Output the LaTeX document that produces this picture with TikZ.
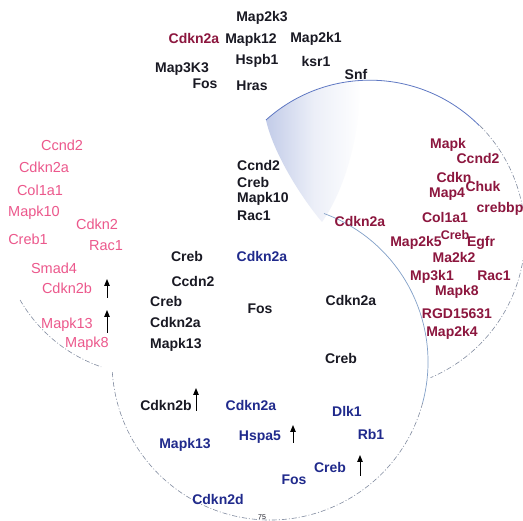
\documentclass[tikz,border=0pt]{standalone}
\usepackage{fontspec}
\setmainfont{Liberation Sans}
\usetikzlibrary{arrows.meta}
\definecolor{pinkt}{RGB}{236,88,140}
\definecolor{maroont}{RGB}{140,22,62}
\definecolor{bluet}{RGB}{32,42,140}
\definecolor{blackt}{RGB}{25,25,35}
\definecolor{circblue}{RGB}{95,120,195}
\definecolor{circlight}{RGB}{130,160,200}
\definecolor{circgray}{RGB}{130,140,160}
\begin{document}
\begin{tikzpicture}[x=1pt,y=-1pt,
 lbl/.style={inner sep=0pt, font=\fontsize{14}{16}\selectfont\bfseries},
 blk/.style={lbl, text=blackt},
 mar/.style={lbl, text=maroont},
 blu/.style={lbl, text=bluet},
 pnk/.style={inner sep=0pt, font=\fontsize{14.5}{16}\selectfont, text=pinkt},
 uparrow/.style={-{Triangle[length=7pt,width=5.5pt]}, line width=0.9pt, draw=black},
 solidarc/.style={draw=circblue, line width=0.8pt},
 lightarc/.style={draw=circlight, line width=0.7pt},
 dasharc/.style={draw=circgray, line width=0.6pt, dash pattern=on 5pt off 2pt on 1pt off 2pt},
]
\useasboundingbox[fill=white] (0,0) rectangle (523,521);

% shaded wedge
\shade[left color=circblue!38!white, right color=white, middle color=circblue!12!white]
  (266,120) arc[start angle=-132, end angle=-94, radius=155]
  .. controls (362,130) and (345,190) .. (322,222)
  .. controls (300,196) and (273,152) .. (266,120) -- cycle;

% right circle
\draw[solidarc] (266,120) arc[start angle=-132, end angle=-45, radius=155];
\draw[dasharc] (370,235) ++(-45:155) arc[start angle=-45, end angle=67, radius=155];
% bottom circle
\draw[lightarc] (270,362) ++(-70:158) arc[start angle=-70, end angle=15, radius=158];
\draw[dasharc] (270,362) ++(15:158) arc[start angle=15, end angle=177, radius=158];
% left circle
\draw[dasharc] (150,225) ++(150:150) arc[start angle=150, end angle=109, radius=150];

% top group
\node[blk] (t1) at (262,18) {Map2k3};
\node[mar] (t2) at (194,38) {Cdkn2a};
\node[blk] (t3) at (251,40) {Mapk12};
\node[blk] (t4) at (316,39) {Map2k1};
\node[blk] (t5) at (182,69) {Map3K3};
\node[blk] (t6) at (257,61) {Hspb1};
\node[blk] (t7) at (316,61) {ksr1};
\node[blk] (t8) at (356,74) {Snf};
\node[blk] (t9) at (205,84) {Fos};
\node[blk] (t10) at (252,86) {Hras};

% left pink group
\node[pnk] (l1) at (62,145) {Ccnd2};
\node[pnk] (l2) at (44,167) {Cdkn2a};
\node[pnk] (l3) at (40,190) {Col1a1};
\node[pnk] (l4) at (34,213) {Mapk10};
\node[pnk] (l5) at (97,224) {Cdkn2};
\node[pnk] (l6) at (28,239) {Creb1};
\node[pnk] (l7) at (106,246) {Rac1};
\node[pnk] (l8) at (54,268) {Smad4};
\node[pnk] (l9) at (67,288) {Cdkn2b};
\node[pnk] (l10) at (67,325) {Mapk13};
\node[pnk] (l11) at (87,344) {Mapk8};

% centre group
\node[blk, anchor=west] (c1) at (237,165) {Ccnd2};
\node[blk, anchor=west] (c2) at (237,182) {Creb};
\node[blk, anchor=west] (c3) at (237,199) {Mapk10};
\node[blk, anchor=west] (c4) at (237,216) {Rac1};
\node[mar] (c5) at (360,221) {Cdkn2a};
\node[blu] (c6) at (262,256) {Cdkn2a};
\node[blk] (c7) at (187,256) {Creb};
\node[blk] (c8) at (193,281) {Ccdn2};
\node[blk, anchor=west] (c9) at (150,301) {Creb};
\node[blk, anchor=west] (c10) at (150,322) {Cdkn2a};
\node[blk, anchor=west] (c11) at (150,345) {Mapk13};
\node[blk] (c12) at (260,309) {Fos};
\node[blk] (c13) at (351,300) {Cdkn2a};
\node[blk] (c14) at (341,358) {Creb};

% right maroon group
\node[mar] (r1) at (448,145) {Mapk};
\node[mar] (r2) at (478,158) {Ccnd2};
\node[mar] (r3) at (454,177) {Cdkn};
\node[mar] (r4) at (483,186) {Chuk};
\node[mar] (r5) at (447,194) {Map4};
\node[mar] (r6) at (500,209) {crebbp};
\node[mar] (r7) at (445,217) {Col1a1};
\node[mar] (r8) at (416,243) {Map2k5};
\node[mar, font=\fontsize{12.5}{14}\selectfont\bfseries] (r9) at (455,235) {Creb};
\node[mar] (r10) at (481,243) {Egfr};
\node[mar] (r11) at (454,257) {Ma2k2};
\node[mar] (r12) at (432,277) {Mp3k1};
\node[mar] (r13) at (494,276) {Rac1};
\node[mar] (r14) at (457,292) {Mapk8};
\node[mar] (r15) at (457,314) {RGD15631};
\node[mar] (r16) at (452,333) {Map2k4};

% bottom group
\node[blk] (b1) at (166,405) {Cdkn2b};
\node[blu] (b2) at (251,405) {Cdkn2a};
\node[blu] (b3) at (347,411) {Dlk1};
\node[blu] (b4) at (260,437) {Hspa5};
\node[blu] (b5) at (371,434) {Rb1};
\node[blu] (b6) at (185,445) {Mapk13};
\node[blu] (b7) at (330,467) {Creb};
\node[blu] (b8) at (294,480) {Fos};
\node[blu] (b9) at (218,499) {Cdkn2d};
\node[inner sep=0pt, font=\fontsize{7}{8}\selectfont, text=blackt] (pg) at (262,517) {75};

% arrows
\coordinate (a1s) at (107,298); \coordinate (a1e) at (107,279);
\coordinate (a2s) at (107,333); \coordinate (a2e) at (107,310);
\coordinate (a3s) at (196,411); \coordinate (a3e) at (196,388);
\coordinate (a4s) at (293,443); \coordinate (a4e) at (293,425);
\coordinate (a5s) at (360,476); \coordinate (a5e) at (360,455);
\draw[uparrow] (a1s) -- (a1e);
\draw[uparrow] (a2s) -- (a2e);
\draw[uparrow] (a3s) -- (a3e);
\draw[uparrow] (a4s) -- (a4e);
\draw[uparrow] (a5s) -- (a5e);
\end{tikzpicture}
\end{document}
